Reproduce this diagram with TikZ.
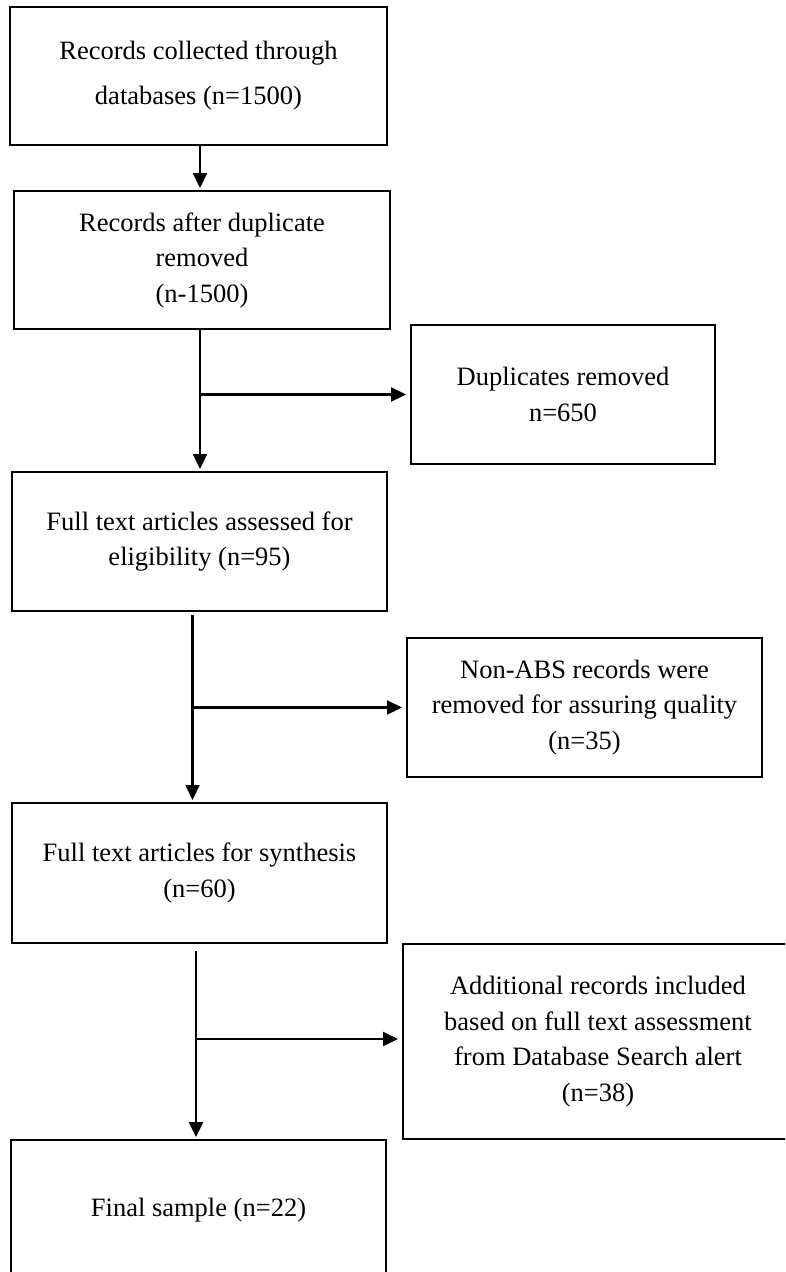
\documentclass[tikz,border=0pt]{standalone}
\usepackage{fontspec}
\setmainfont{Liberation Serif}
\usetikzlibrary{arrows.meta}
\begin{document}
\begin{tikzpicture}[x=1pt,y=-1pt,
  box/.style={draw=black, line width=2.5pt, rectangle, outer sep=0pt, inner sep=0pt,
    align=center, text=black, font=\fontsize{26.5}{35.5}\selectfont},
  conn/.style={draw=black, line width=2.2pt, -{Triangle[length=15pt,width=14pt]}, shorten >=3pt},
  sideconn/.style={conn, shorten >=5pt}]
\clip (0,0) rectangle (785,1272);
\fill[white] (0,0) rectangle (785,1272);

\node[box, minimum width=377pt, minimum height=138pt, font=\fontsize{26.5}{45}\selectfont] (b1) at (198.5,76)
  {Records collected through\\databases (n=1500)};
\node[box, minimum width=376pt, minimum height=138pt] (b2) at (202,260)
  {Records after duplicate\\removed\\(n-1500)};
\node[box, minimum width=304pt, minimum height=139pt] (b3) at (563,394.5)
  {Duplicates removed\\n=650};
\node[box, minimum width=375pt, minimum height=139pt] (b4) at (199.5,541.5)
  {Full text articles assessed for\\eligibility (n=95)};
\node[box, minimum width=355pt, minimum height=139pt] (b5) at (584.5,707.5)
  {Non-ABS records were\\removed for assuring quality\\(n=35)};
\node[box, minimum width=375pt, minimum height=140pt] (b6) at (199.5,873)
  {Full text articles for synthesis\\(n=60)};
\node[box, minimum width=390pt, minimum height=195pt] (b7) at (598,1041.5)
  {Additional records included\\based on full text assessment\\from Database Search alert\\(n=38)};
\node[box, minimum width=375pt, minimum height=140pt] (b8) at (198.5,1210)
  {Final sample (n=22)};

% connectors
\coordinate (s1) at (200,145);
\draw[conn] (s1) -- (s1 |- b2.north);

\coordinate (s2) at (200,329);
\draw[conn] (s2) -- (s2 |- b4.north);
\draw[sideconn] (s2 |- b3.west) -- (b3.west);

\coordinate (s3) at (192.5,615);
\draw[conn] (s3) -- (s3 |- b6.north);
\draw[sideconn] (s3 |- b5.west) -- (b5.west);

\coordinate (s4) at (196,951);
\draw[conn] (s4) -- (s4 |- b8.north);
\draw[sideconn] (s4 |- 0,1039) -- (b7.west |- 0,1039);
\end{tikzpicture}
\end{document}
